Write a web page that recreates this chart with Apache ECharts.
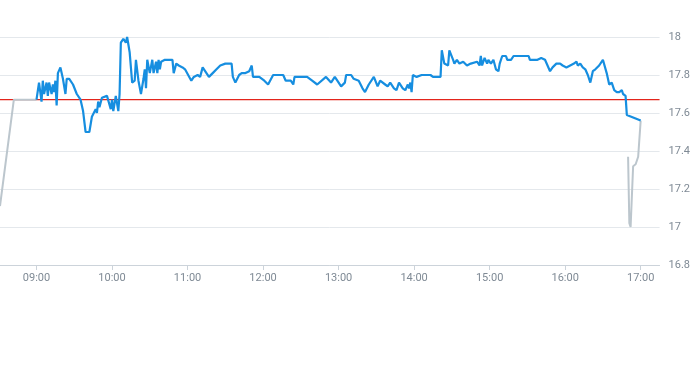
<!DOCTYPE html>
<html>
<head>
<meta charset="utf-8">
<script src="https://cdn.jsdelivr.net/npm/echarts@6/dist/echarts.min.js"></script>
<style>
html,body{margin:0;padding:0;background:#fff;}
#chart{width:693px;height:365px;}
</style>
</head>
<body>
<div id="chart"></div>
<script>
// Regular session (blue)
var mainTimes = ["09:00","09:02","09:04","09:05","09:06","09:08","09:09","09:10","09:12","09:13","09:14","09:15","09:16","09:17","09:19","09:21","09:23","09:24","09:26","09:29","09:32","09:35","09:37","09:39","09:42","09:44","09:45","09:47","09:48","09:49","09:50","09:52","09:56","09:57","09:59","10:00","10:01","10:03","10:05","10:06","10:07","10:09","10:11","10:12","10:14","10:16","10:18","10:19","10:21","10:23","10:25","10:26","10:27","10:28","10:30","10:32","10:33","10:35","10:36","10:37","10:38","10:39","10:42","10:48","10:49","10:51","10:53","10:56","10:58","11:03","11:05","11:08","11:10","11:11","11:12","11:17","11:20","11:23","11:26","11:30","11:33","11:35","11:36","11:38","11:41","11:43","11:46","11:47","11:49","11:51","11:52","11:57","12:01","12:04","12:08","12:16","12:18","12:22","12:24","12:25","12:35","12:39","12:43","12:44","12:50","12:54","12:55","12:57","12:59","13:00","13:02","13:05","13:06","13:10","13:12","13:16","13:19","13:21","13:24","13:28","13:31","13:33","13:37","13:39","13:41","13:44","13:46","13:48","13:51","13:53","13:55","13:56","13:57","13:58","13:59","14:02","14:06","14:07","14:09","14:10","14:11","14:13","14:15","14:21","14:22","14:24","14:27","14:28","14:31","14:32","14:34","14:36","14:39","14:42","14:45","14:50","14:52","14:53","14:54","14:56","14:58","14:59","15:01","15:03","15:05","15:07","15:08","15:10","15:13","15:14","15:17","15:19","15:23","15:28","15:31","15:32","15:34","15:35","15:38","15:41","15:44","15:46","15:48","15:50","15:53","15:56","15:58","16:01","16:04","16:07","16:09","16:10","16:12","16:14","16:16","16:18","16:20","16:22","16:24","16:25","16:27","16:30","16:33","16:35","16:37","16:39","16:41","16:43","16:44","16:45","16:46","16:48","16:49","17:00"];
var mainValues = [17.67,17.76,17.66,17.77,17.70,17.76,17.69,17.76,17.70,17.75,17.71,17.77,17.64,17.81,17.84,17.78,17.70,17.78,17.78,17.75,17.70,17.67,17.61,17.50,17.50,17.58,17.57,17.62,17.60,17.66,17.63,17.68,17.69,17.69,17.62,17.67,17.61,17.69,17.61,17.70,17.97,17.99,17.97,18.00,17.92,17.76,17.77,17.88,17.77,17.70,17.78,17.83,17.73,17.88,17.81,17.88,17.81,17.87,17.81,17.88,17.83,17.87,17.88,17.88,17.81,17.86,17.85,17.84,17.83,17.77,17.79,17.80,17.79,17.79,17.84,17.79,17.81,17.83,17.85,17.86,17.86,17.86,17.79,17.76,17.80,17.81,17.81,17.80,17.82,17.85,17.79,17.79,17.77,17.75,17.80,17.80,17.77,17.77,17.75,17.79,17.79,17.77,17.75,17.75,17.79,17.76,17.75,17.79,17.77,17.78,17.74,17.76,17.80,17.80,17.78,17.77,17.73,17.71,17.75,17.79,17.74,17.77,17.75,17.74,17.76,17.73,17.72,17.76,17.73,17.72,17.75,17.73,17.76,17.71,17.80,17.79,17.80,17.80,17.80,17.79,17.80,17.80,17.79,17.79,17.93,17.86,17.85,17.93,17.88,17.86,17.88,17.86,17.87,17.85,17.86,17.87,17.85,17.90,17.85,17.89,17.86,17.88,17.86,17.88,17.83,17.82,17.86,17.90,17.90,17.88,17.88,17.90,17.90,17.90,17.90,17.88,17.88,17.87,17.88,17.89,17.88,17.85,17.82,17.84,17.86,17.86,17.85,17.84,17.85,17.86,17.87,17.85,17.86,17.84,17.83,17.80,17.76,17.82,17.83,17.82,17.85,17.88,17.81,17.75,17.76,17.72,17.71,17.71,17.70,17.72,17.70,17.69,17.59,17.56];
// Pre-market (grey)
var preTimes = ["08:31","08:42","09:00"];
var preValues = [17.11,17.67,17.67];
// After-hours (grey)
var postTimes = ["16:50","16:51","16:52","16:53","16:54","16:56","16:58","16:59","17:00"];
var postValues = [17.37,17.02,17.00,17.00,17.32,17.33,17.37,17.37,17.56];
var prevClose = 17.67;
var yTicks = [16.8,17,17.2,17.4,17.6,17.8,18];
var xStart = "08:31", xEnd = "17:15";

function ts(s){var p=s.split(':');return new Date(2024,0,2,+p[0],+p[1]).getTime();}
function pair(t,v){return t.map(function(x,i){return [ts(x),v[i]];});}
function pad(n){return (n<10?'0':'')+n;}

var chart = echarts.init(document.getElementById('chart'), null, {renderer:'canvas'});
var grey = {color:'#bcc6cd', width:2};
chart.setOption({
  animation:false,
  backgroundColor:'#fff',
  grid:{left:0,right:29,top:37,bottom:100,containLabel:false},
  xAxis:{
    type:'time', min:ts(xStart), max:ts(xEnd),
    minInterval:3600000, maxInterval:3600000,
    axisLine:{show:true,lineStyle:{color:'#ccd3da',width:1}},
    axisTick:{show:true,length:5,lineStyle:{color:'#ccd3da'}},
    splitLine:{show:false},
    axisLabel:{color:'#7f8a95',fontSize:11,fontFamily:'Roboto, sans-serif',margin:8,
      formatter:function(v){var d=new Date(v);return pad(d.getHours())+':'+pad(d.getMinutes());}}
  },
  yAxis:{
    type:'value', position:'right', min:yTicks[0], max:yTicks[yTicks.length-1], interval:0.2,
    axisLine:{show:false}, axisTick:{show:false},
    splitLine:{show:true,lineStyle:{color:'#e4e8ec',width:1}},
    axisLabel:{color:'#7f8a95',fontSize:11,fontFamily:'Roboto, sans-serif',margin:9,
      formatter:function(v){return String(+v.toFixed(1));}}
  },
  series:[
    {type:'line',data:[[ts(xStart),prevClose],[ts(xEnd),prevClose]],showSymbol:false,
      lineStyle:{color:'#e3241b',width:1.2},z:1,silent:true},
    {type:'line',data:pair(preTimes,preValues),showSymbol:false,lineStyle:grey,z:2},
    {type:'line',data:pair(postTimes,postValues),showSymbol:false,lineStyle:grey,z:2},
    {type:'line',data:pair(mainTimes,mainValues),showSymbol:false,
      lineStyle:{color:'#168ee0',width:2.2},z:3}
  ]
});
</script>
</body>
</html>
